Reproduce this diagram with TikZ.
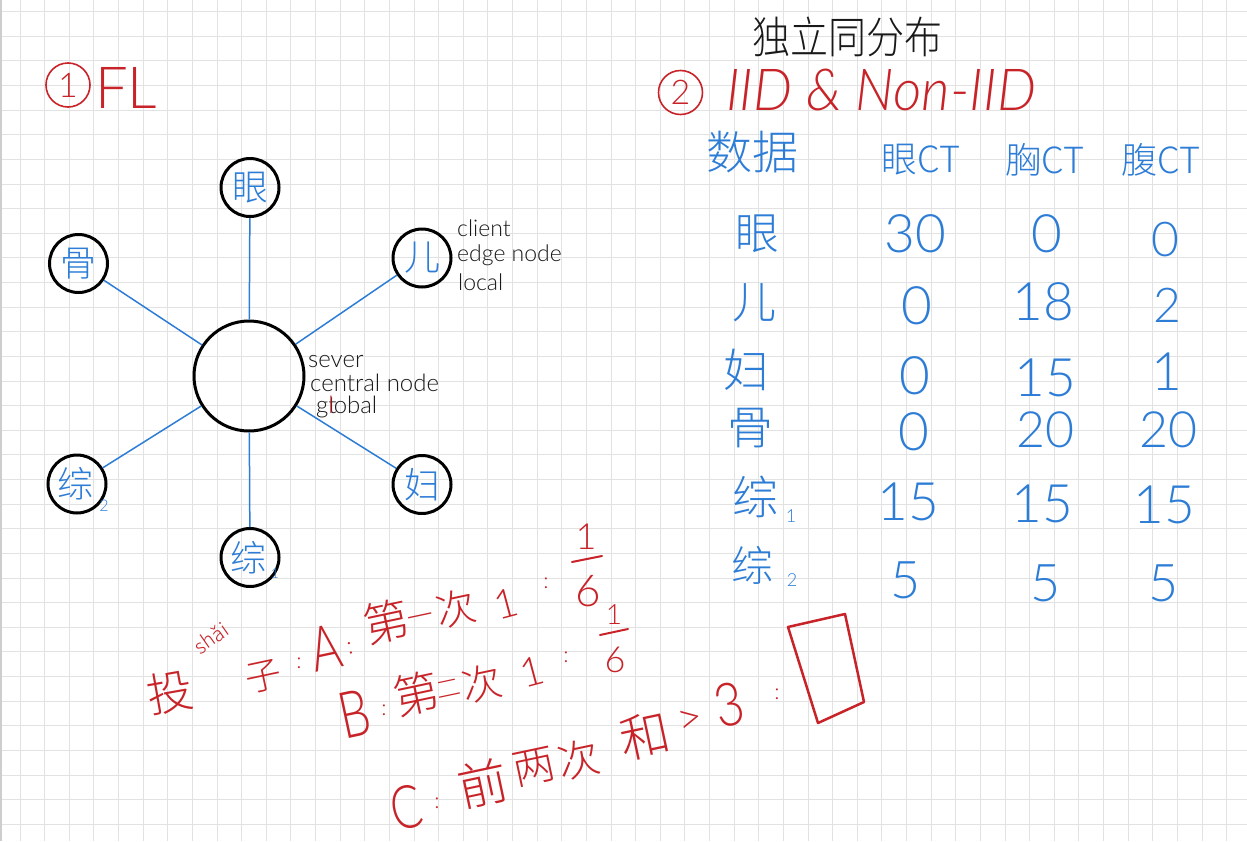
\documentclass[tikz,border=0pt]{standalone}
\usepackage{fontspec}
\setmainfont{Lato}[UprightFont=* Light, ItalicFont=* Light Italic]
\newfontfamily\cjk{Noto Sans CJK SC}[UprightFont=* Light]
\newcommand\hwsize[1]{\fontsize{#1}{#1}\selectfont}
\definecolor{hred}{RGB}{200,35,40}
\definecolor{hblue}{RGB}{45,125,215}
\definecolor{gridc}{RGB}{226,226,226}
\definecolor{ink}{RGB}{25,25,25}
\begin{document}
\begin{tikzpicture}[x=1pt,y=-1pt,
  gridline/.style={draw=gridc, line width=1pt},
  client/.style={circle, draw=black, line width=3pt, minimum size=58pt, inner sep=0pt, text=hblue, font=\cjk\hwsize{36}},
  server/.style={circle, draw=black, line width=3pt, minimum size=110pt, inner sep=0pt},
  conn/.style={draw=hblue, line width=1.5pt},
  note/.style={text=ink, inner sep=0pt, anchor=base west, font=\hwsize{#1}},
  tabcjk/.style={text=hblue, inner sep=0pt, font=\cjk\hwsize{#1}},
  tabnum/.style={text=hblue, inner sep=0pt, font=\hwsize{#1}},
  redcjk/.style={text=hred, inner sep=0pt, font=\cjk\hwsize{#1}},
  redlat/.style={text=hred, inner sep=0pt, font=\hwsize{#1}},
  numcirc/.style={circle, draw=hred, line width=1.6pt, minimum size=44pt, inner sep=0pt, text=hred, font=\hwsize{34}},
  redline/.style={draw=hred, line width=2pt, line cap=round}
]
\useasboundingbox (0,0) rectangle (1247,841);
\fill[white] (0,0) rectangle (1247,841);
\foreach \k in {0,...,49} \draw[gridline] ({20+24.625*\k},0) -- ({20+24.625*\k},841);
\foreach \k in {0,...,33} \draw[gridline] (0,{11.7+24.625*\k}) -- (1247,{11.7+24.625*\k});
\draw[draw={rgb,255:red,205;green,205;blue,205}, line width=2pt] (1,0) -- (1,841);

% ---- section 1: FL ----
\node[numcirc] (c1) at (68,85) {1};
\node[redlat=58, anchor=base west] (fl) at (95,108) {FL};

\node[server] (S) at (249,376) {};
\node[client] (eye)  at (250,187.5) {眼};
\node[client] (kid)  at (422,258) {儿};
\node[client] (gyn)  at (422,484.5) {妇};
\node[client] (bone) at (78.5,263.5) {骨};
\node[client] (gen2) at (77,484) {\hspace*{-4pt}综};
\node[client] (gen1) at (250,557.5) {\hspace*{-4pt}综};
\node[tabnum=16] (gen2s) at (104,506) {2};
\node[tabnum=14] (gen1s) at (275,574) {1};

\draw[conn] (S) -- (eye);
\draw[conn] (S) -- (kid);
\draw[conn] (S) -- (gyn);
\draw[conn] (S) -- (bone);
\draw[conn] (S) -- (gen2);
\draw[conn] (S) -- (gen1);

\node[note=23] (cl1) at (457,236) {client};
\node[note=23] (cl2) at (457,261) {edge node};
\node[note=23] (cl3) at (458,290) {local};
\node[note=24] (sv1) at (308,367) {sever};
\node[note=24] (sv2) at (310,391) {central node};
\node[note=24] (sv3) at (316,413) {g\rlap{t}\textcolor{hred}{l}obal};

% ---- section 2: IID ----
\node[text=ink, inner sep=0pt, font=\cjk\hwsize{38}, yscale=1.15] (iidcn) at (847,37) {独立同分布};
\node[numcirc] (c2) at (680.5,92.5) {2};
\node[redlat=58, anchor=base west, xscale=0.95, font=\itshape\hwsize{58}] (iid) at (726,110) {IID \& Non-IID};

\node[tabcjk=46] (h0) at (752,152) {数据};
\node[tabcjk=36] (h1) at (921,160) {眼CT};
\node[tabcjk=36] (h2) at (1045,160) {胸CT};
\node[tabcjk=36] (h3) at (1161,160) {腹CT};

\node[tabcjk=44] (r1) at (757,234) {眼};
\node[tabcjk=44] (r2) at (754,303) {儿};
\node[tabcjk=46] (r3) at (746,370) {妇};
\node[tabcjk=46] (r4) at (750,428) {骨};
\node[tabcjk=46] (r5) at (755,497) {综};
\node[tabnum=18] (r5s) at (791,516) {1};
\node[tabcjk=42] (r6) at (752,565) {综};
\node[tabnum=18] (r6s) at (792,580) {2};

\node[tabnum=53] (v11) at (915,234) {30};
\node[tabnum=53] (v12) at (1047,234) {0};
\node[tabnum=48] (v13) at (1165,240) {0};
\node[tabnum=53] (v21) at (917,306) {0};
\node[tabnum=53] (v22) at (1043,302) {18};
\node[tabnum=48] (v23) at (1167,305) {2};
\node[tabnum=53] (v31) at (915,376) {0};
\node[tabnum=53] (v32) at (1045,378) {15};
\node[tabnum=53] (v33) at (1167,372) {1};
\node[tabnum=53] (v41) at (914,432) {0};
\node[tabnum=50] (v42) at (1045,430) {20};
\node[tabnum=50] (v43) at (1168,430) {20};
\node[tabnum=53] (v51) at (908,502) {15};
\node[tabnum=53] (v52) at (1042,504) {15};
\node[tabnum=53] (v53) at (1164,505) {15};
\node[tabnum=52] (v61) at (906,580) {5};
\node[tabnum=52] (v62) at (1046,583) {5};
\node[tabnum=52] (v63) at (1164,583) {5};

% ---- dice notes ----
\node[redcjk=46, rotate=10] (tou) at (170,692) {投};
\node[redcjk=20, rotate=35] (shai) at (211,638) {shǎi};
\node[redcjk=36, rotate=12] (zi) at (264,677) {子};
\node[redlat=22] (col0) at (299,663) {:};
\node[redlat=46, rotate=12, yscale=1.35] (la) at (326,648) {A};
\node[redlat=24, rotate=12] (col1) at (350,648) {:};
\node[redcjk=46, rotate=12] (d1) at (386,622) {第};
\node[redcjk=26, rotate=12] (y1) at (421,620) {一};
\node[redcjk=40, rotate=12] (c1x) at (456,609) {次};
\node[redlat=40, rotate=15] (o1) at (506,604) {1};
\node[redlat=22] (col2) at (546,583) {:};
\node[redlat=36] (f1n) at (586,537) {1};
\draw[redline] (572,562) -- (602,556);
\node[redlat=44] (f1d) at (588,591) {6};

\node[redlat=48, rotate=12, yscale=1.35] (lb) at (355,714) {B};
\node[redlat=22] (col3) at (384,710) {:};
\node[redcjk=46, rotate=12] (d2) at (416,694) {第};
\node[redcjk=24, rotate=12] (e2) at (449,689) {二};
\node[redcjk=40, rotate=12] (c2x) at (482,684) {次};
\node[redlat=40, rotate=15] (o2) at (532,672) {1};
\node[redlat=22] (col4) at (566,657) {:};
\node[redlat=28] (f2n) at (614,615) {1};
\draw[redline] (600,635) -- (628,629);
\node[redlat=36] (f2d) at (615,660) {6};

\node[redlat=46, rotate=12, yscale=1.3] (lc) at (406,808) {C};
\node[redlat=22] (col5) at (437,803) {:};
\node[redcjk=50, rotate=12] (q3) at (483,783) {前};
\node[redcjk=42, rotate=12] (l3) at (534,767) {两};
\node[redcjk=42, rotate=12] (c3x) at (579,760) {次};
\node[redcjk=50, rotate=12] (h3x) at (645,736) {和};
\node[redlat=44, rotate=12] (gt) at (691,721) {>};
\node[redlat=50, rotate=12, yscale=1.2] (th) at (729,705) {3};
\node[redlat=22] (col6) at (777,694) {:};
\draw[draw=hred, line width=2.5pt, line join=round] (788,627) -- (845,614) -- (864,702) -- (818,723) -- cycle;
\end{tikzpicture}
\end{document}
